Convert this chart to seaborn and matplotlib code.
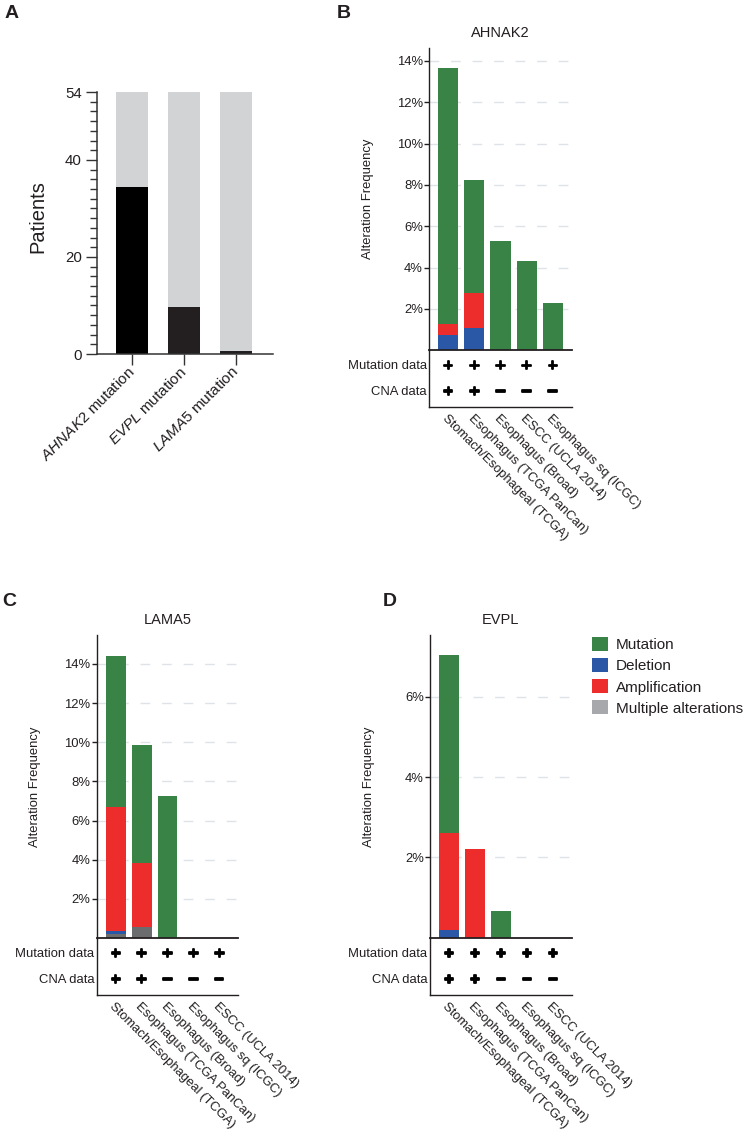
import numpy as np
import matplotlib
matplotlib.use("Agg")
import matplotlib.pyplot as plt
import matplotlib.patheffects as pe
from matplotlib.patches import Patch
from matplotlib.ticker import FuncFormatter, MultipleLocator, FixedLocator
import seaborn as sns

# ---------------- data ----------------
# Panel A
genes_a = ["AHNAK2", "EVPL", "LAMA5"]
gene_labels_a = [r"$\mathit{AHNAK2}$ mutation", r"$\mathit{EVPL}$ mutation", r"$\mathit{LAMA5}$ mutation"]
patients_total = [54, 54, 54]
patients_mutated = [34.5, 9.6, 0.6]
yticks_a = [0, 20, 40, 54]

# Panels B-D
studies_b = ["Stomach/Esophageal (TCGA)", "Esophagus (TCGA PanCan)", "Esophagus (Broad)",
             "ESCC (UCLA 2014)", "Esophagus sq (ICGC)"]
studies_cd = ["Stomach/Esophageal (TCGA)", "Esophagus (TCGA PanCan)", "Esophagus (Broad)",
              "Esophagus sq (ICGC)", "ESCC (UCLA 2014)"]

mutation_b = [12.39, 5.48, 5.30, 4.32, 2.27]
amplification_b = [0.56, 1.67, 0, 0, 0]
deletion_b = [0.73, 1.09, 0, 0, 0]
multiple_b = [0, 0, 0, 0, 0]

mutation_c = [7.73, 6.05, 7.26, 0, 0]
amplification_c = [6.31, 3.29, 0, 0, 0]
deletion_c = [0.17, 0, 0, 0, 0]
multiple_c = [0.20, 0.54, 0, 0, 0]

mutation_d = [4.43, 0, 0.66, 0, 0]
amplification_d = [2.41, 2.20, 0, 0, 0]
deletion_d = [0.19, 0, 0, 0, 0]
multiple_d = [0, 0, 0, 0, 0]

mutation_flags = ["+", "+", "+", "+", "+"]
cna_flags = ["+", "+", "\u2212", "\u2212", "\u2212"]

yticks_b = [2, 4, 6, 8, 10, 12, 14]
yticks_c = [2, 4, 6, 8, 10, 12, 14]
yticks_d = [2, 4, 6]

legend_labels = ["Mutation", "Deletion", "Amplification", "Multiple alterations"]

# ---------------- style ----------------
sns.set_style("white")
plt.rcParams["font.family"] = ["Liberation Sans", "DejaVu Sans"]
plt.rcParams["mathtext.fontset"] = "custom"
plt.rcParams["mathtext.it"] = "Liberation Sans:italic"
plt.rcParams["mathtext.rm"] = "Liberation Sans"
plt.rcParams["axes.unicode_minus"] = True

GREEN = "#3a8346"
BLUE = "#2b58a6"
RED = "#ec2d2b"
GRAY_BAR = "#6b6c6e"
GRAY_LEG = "#a6a8ab"
TXT = "#231f20"

W, H = 746, 1140
fig = plt.figure(figsize=(W / 100, H / 100), dpi=100)
fig.patch.set_facecolor("white")


def rect(left, top, right, bottom):
    return [left / W, 1 - bottom / H, (right - left) / W, (bottom - top) / H]


# ---------------- Panel A ----------------
axA = fig.add_axes(rect(97, 92, 273, 354))
sns.barplot(x=genes_a, y=patients_total, color="#d1d3d4", width=0.615, saturation=1,
            errorbar=None, linewidth=0, ax=axA)
sns.barplot(x=genes_a, y=patients_mutated, hue=genes_a, palette=["#000000", "#231f20", "#231f20"],
            width=0.615, saturation=1, errorbar=None, linewidth=0, legend=False, ax=axA)
axA.set_xlim(-0.67, 2.71)
axA.set_ylim(0, 54)
axA.yaxis.set_major_locator(FixedLocator(yticks_a))
axA.yaxis.set_minor_locator(MultipleLocator(2))
axA.set_xticks(range(len(genes_a)))
axA.set_xticklabels(gene_labels_a, rotation=45, ha="right", va="center", rotation_mode="anchor",
                    fontsize=11, color=TXT)
axA.tick_params(axis="y", which="major", length=8, width=1, pad=3, labelsize=10.8, labelcolor=TXT,
                color="#333333", left=True)
axA.tick_params(axis="y", which="minor", length=5, width=1, color="#333333", left=True)
axA.tick_params(axis="x", which="major", length=8, width=1, pad=3, color="#333333", bottom=True)
for s in ["top", "right"]:
    axA.spines[s].set_visible(False)
for s in ["left", "bottom"]:
    axA.spines[s].set_color("#333333")
    axA.spines[s].set_linewidth(1.1)
axA.set_ylabel("Patients", fontsize=14.5, color=TXT)
axA.yaxis.set_label_coords(-(97 - 47) / 176, 0.524)
axA.set_xlabel("")

flag_effect = [pe.withStroke(linewidth=1.3, foreground="black")]


# ---------------- Panels B-D ----------------
def alteration_panel(left, top, right, bottom, tbottom, title, studies, mut, amp, dele, mult,
                     ymax, yticks):
    ax = fig.add_axes(rect(left, top, right, bottom))
    mut = np.asarray(mut, float)
    amp = np.asarray(amp, float)
    dele = np.asarray(dele, float)
    mult = np.asarray(mult, float)
    layers = [(mult + dele + amp + mut, GREEN),
              (mult + dele + amp, RED),
              (mult + dele, BLUE),
              (mult, GRAY_BAR)]
    for heights, col in layers:
        sns.barplot(x=studies, y=heights, order=studies, color=col, width=0.77, saturation=1,
                    errorbar=None, linewidth=0, ax=ax)
    xlim = (-0.73, 4.73)
    ax.set_xlim(*xlim)
    ax.set_ylim(0, ymax)
    ax.set_yticks(yticks)
    ax.yaxis.set_major_formatter(FuncFormatter(lambda v, p: f"{v:.0f}%"))
    ax.set_axisbelow(True)
    ax.yaxis.grid(True, color="#dfe3e8", linestyle=(0, (7, 8.5)), linewidth=1)
    ax.xaxis.grid(False)
    ax.tick_params(axis="y", length=3.5, width=1, pad=1, labelsize=9.4, labelcolor=TXT,
                   color=TXT, left=True)
    ax.tick_params(axis="x", length=0, labelbottom=False)
    for s in ["top", "right"]:
        ax.spines[s].set_visible(False)
    ax.spines["left"].set_color(TXT)
    ax.spines["left"].set_linewidth(1)
    ax.spines["bottom"].set_color(TXT)
    ax.spines["bottom"].set_linewidth(1.3)
    ax.set_xlabel("")
    ax.set_ylabel("Alteration Frequency", fontsize=9.4, color=TXT)
    ax.yaxis.set_label_coords(-55.5 / (right - left), 0.5)
    ax.set_title(title, fontsize=10.5, color=TXT, pad=8)

    tx = fig.add_axes(rect(left, bottom, right, tbottom))
    tx.set_xlim(*xlim)
    tx.set_ylim(0, 1)
    for i in range(len(studies)):
        tx.text(i, 0.722, mutation_flags[i], ha="center", va="center", fontsize=9.5,
                fontweight="bold", family="DejaVu Sans", color="black", path_effects=flag_effect)
        tx.text(i, 0.266, cna_flags[i], ha="center", va="center", fontsize=9.5,
                fontweight="bold", family="DejaVu Sans", color="black", path_effects=flag_effect)
    tx.text(-0.018, 0.722, "Mutation data", transform=tx.transAxes, ha="right", va="center",
            fontsize=9.4, color=TXT)
    tx.text(-0.018, 0.266, "CNA data", transform=tx.transAxes, ha="right", va="center",
            fontsize=9.4, color=TXT)
    tx.set_yticks([])
    tx.set_xticks(range(len(studies)))
    tx.set_xticklabels(studies, rotation=-45, ha="left", va="top", rotation_mode="anchor",
                       fontsize=9.4, color=TXT)
    tx.tick_params(axis="x", length=0, pad=4)
    for s in ["top", "right"]:
        tx.spines[s].set_visible(False)
    for s in ["left", "bottom"]:
        tx.spines[s].set_color(TXT)
        tx.spines[s].set_linewidth(1)
    tx.patch.set_alpha(0)
    return ax, tx


axB, _ = alteration_panel(429.3, 47.7, 571.7, 350.3, 406.7, "AHNAK2", studies_b,
                          mutation_b, amplification_b, deletion_b, multiple_b, 14.64, yticks_b)
axC, _ = alteration_panel(96.7, 635, 238.3, 938, 995, "LAMA5", studies_cd,
                          mutation_c, amplification_c, deletion_c, multiple_c, 15.48, yticks_c)
axD, _ = alteration_panel(430, 635, 571.7, 937.7, 995, "EVPL", studies_cd,
                          mutation_d, amplification_d, deletion_d, multiple_d, 7.54, yticks_d)

# legend
handles = [Patch(facecolor=c, edgecolor="none") for c in [GREEN, BLUE, RED, GRAY_LEG]]
fig.legend(handles, legend_labels, loc="upper left", bbox_to_anchor=(592.3 / W, 1 - 637 / H),
           frameon=False, borderpad=0, borderaxespad=0, handlelength=1.05, handleheight=1.05,
           handletextpad=0.5, labelspacing=0.38, fontsize=11, labelcolor=TXT)

# panel letters
for letter, x, y in [("A", 5, 14), ("B", 337, 13), ("C", 2, 602), ("D", 383, 602)]:
    fig.text(x / W, 1 - y / H, letter, fontsize=14, fontweight="bold", ha="left", va="center",
             color=TXT)

fig.savefig("out.png", dpi=100, facecolor="white")
